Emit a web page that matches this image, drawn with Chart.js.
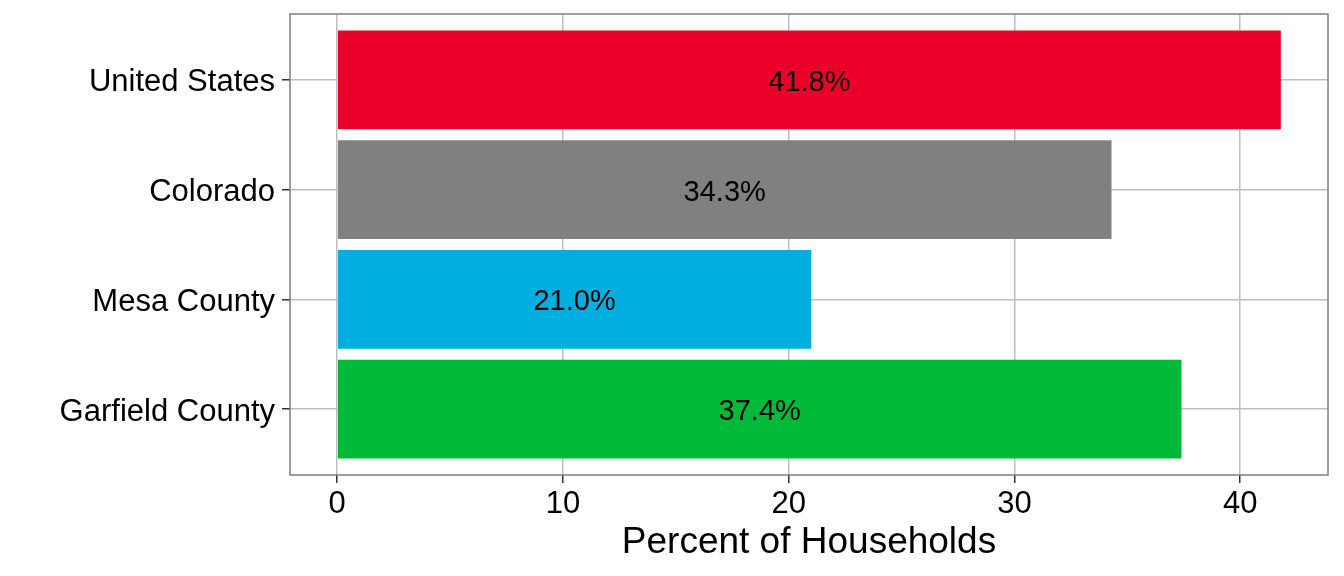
<!DOCTYPE html>
<html>
<head>
<meta charset="utf-8">
<script src="https://cdn.jsdelivr.net/npm/chart.js@4.4.1/dist/chart.umd.min.js"></script>
<style>
  html, body { margin: 0; padding: 0; background: #ffffff; }
  #wrap { width: 1344px; height: 576px; position: relative; }
</style>
</head>
<body>
<div id="wrap"><canvas id="barChart" width="1344" height="576"></canvas></div>
<script>
// bottom to top, as the axis reads
let places = ['Garfield County', 'Mesa County', 'Colorado', 'United States'];
let percent_values = [37.4, 21.0, 34.3, 41.8];
let bar_colors = ['#00BA38', '#00AEDF', '#808080', '#EB0029'];
let x_ticks = [0, 10, 20, 30, 40];

const panelBox = {
    id: 'panelBox',
    afterDraw(chart) {
        const a = chart.chartArea;
        const c = chart.ctx;
        c.save();
        c.strokeStyle = '#7f7f7f';
        c.lineWidth = 1.5;
        c.strokeRect(a.left, a.top, a.right - a.left, a.bottom - a.top);
        c.restore();
    }
};

const barLabels = {
    id: 'barLabels',
    afterDatasetsDraw(chart) {
        const c = chart.ctx;
        const meta = chart.getDatasetMeta(0);
        c.save();
        c.font = '29px "Liberation Sans", Arial, sans-serif';
        c.fillStyle = '#000000';
        c.textAlign = 'center';
        c.textBaseline = 'middle';
        meta.data.forEach(function(bar, i) {
            c.fillText(percent_values[i].toFixed(1) + '%', (bar.x + bar.base) / 2, bar.y + 3);
        });
        c.restore();
    }
};

window.onload = function() {
    const ctx = document.getElementById('barChart');
    const barChart = new Chart(ctx, {
        type: 'bar',
        data: {
            datasets: [{
                data: places.map(function(p, i) { return { x: percent_values[i], y: i + 1 }; }),
                backgroundColor: bar_colors,
                borderWidth: 0,
                categoryPercentage: 1,
                barPercentage: 0.9
            }]
        },
        options: {
            indexAxis: 'y',
            responsive: false,
            animation: false,
            devicePixelRatio: 1,
            layout: { padding: { top: 14, right: 16, left: 0, bottom: 0 } },
            plugins: {
                legend: { display: false },
                tooltip: { enabled: false }
            },
            scales: {
                x: {
                    type: 'linear',
                    min: -2.09,
                    max: 43.89,
                    afterBuildTicks: function(s) { s.ticks = x_ticks.map(function(v) { return { value: v }; }); },
                    afterFit: function(s) { s.height = 101; s.paddingLeft = 0; s.paddingRight = 0; },
                    grid: { color: '#bebebe', lineWidth: 1.5, tickColor: '#333333', tickLength: 8 },
                    border: { display: false },
                    ticks: {
                        color: '#000000',
                        padding: 3,
                        font: { family: '"Liberation Sans", Arial, sans-serif', size: 31 }
                    },
                    title: {
                        display: true,
                        text: 'Percent of Households',
                        color: '#000000',
                        padding: { top: 0, bottom: 15 },
                        font: { family: '"Liberation Sans", Arial, sans-serif', size: 37, lineHeight: 1 }
                    }
                },
                y: {
                    type: 'linear',
                    min: 0.4,
                    max: 4.6,
                    offset: false,
                    afterBuildTicks: function(s) { s.ticks = places.map(function(p, i) { return { value: i + 1 }; }); },
                    afterFit: function(s) { s.width = 290; s.paddingTop = 0; s.paddingBottom = 0; },
                    grid: { offset: false, color: '#bebebe', lineWidth: 1.5, tickColor: '#333333', tickLength: 8 },
                    border: { display: false },
                    ticks: {
                        color: '#000000',
                        padding: 7,
                        labelOffset: 3,
                        font: { family: '"Liberation Sans", Arial, sans-serif', size: 31 },
                        callback: function(v) { return places[v - 1]; }
                    }
                }
            }
        },
        plugins: [panelBox, barLabels]
    });
};
</script>
</body>
</html>
